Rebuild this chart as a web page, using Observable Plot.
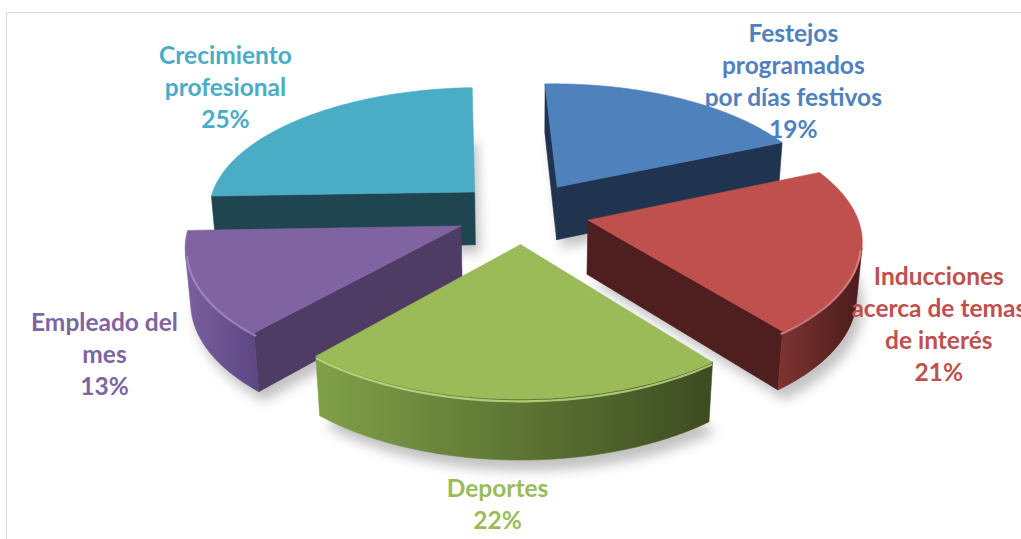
<!DOCTYPE html>
<html>
<head>
<meta charset="utf-8">
<script src="https://cdn.jsdelivr.net/npm/d3@7"></script>
<script src="https://cdn.jsdelivr.net/npm/@observablehq/plot@0.6"></script>
<style>
  html, body { margin: 0; padding: 0; background: #fff; overflow: hidden; }
  #chart { position: relative; width: 1021px; height: 539px; }
  #frame { position: absolute; left: 6px; top: 12px; width: 1100px; height: 600px;
           border-left: 1.5px solid #d9d9d9; border-top: 1.5px solid #d9d9d9; }
  #chart svg { position: absolute; left: 0; top: 0; }
</style>
</head>
<body>
<div id="chart"><div id="frame"></div></div>
<script>
// Activity categories and their shares (%), clockwise from 12 o'clock
const categories = [
  "Festejos programados por días festivos",
  "Inducciones acerca de temas de interés",
  "Deportes",
  "Empleado del mes",
  "Crecimiento profesional"
];
const shares = [19, 21, 22, 13, 25];
const labelLines = [
  "Festejos\nprogramados\npor días festivos",
  "Inducciones\nacerca de temas\nde interés",
  "Deportes",
  "Empleado del\nmes",
  "Crecimiento\nprofesional"
];

// Palette: top face, cut faces, outer wall gradient (light → dark), rim highlight
const topColors  = ["#4F81BD", "#C0504D", "#9BBB59", "#8064A2", "#4BACC6"];
const sideColors = ["#21344F", "#4F1E1F", "#3F5023", "#4E3C64", "#1F4550"];
const wallLight  = ["#3C6496", "#7E3432", "#80A048", "#7B5FA0", "#3A8DA3"];
const wallDark   = ["#22385A", "#4A1B1B", "#3D4C21", "#5C4682", "#1F4651"];
const rimColors  = ["#7FA6D6", "#DB8A88", "#C4E08A", "#A68BC9", "#86CFE2"];

// 3-D view settings (world units: pie radius = 1)
const startAngle = -2 * Math.PI / 180; // first slice begins just left of 12 o'clock
const tilt = 27.5 * Math.PI / 180;     // camera elevation
const viewDist = 6.5;                  // perspective distance
const explode = 0.25;                  // slice pull-out
const thickness = 0.23;                // pie depth
const steps = 90;

// Label placement: distance along the slice's mid angle, drop below the top plane, sideways shift
const labelRadius = [2.49, 1.548, 1.10, 1.589, 1.765];
const labelDrop   = [-0.361, -0.252, -0.511, -0.187, -0.004];
const labelShift  = [0, 0, -0.052, 0, 0];

const cosT = Math.cos(tilt), sinT = Math.sin(tilt);
const cam = [0, viewDist * sinT, -viewDist * cosT];

function project([X, Y, Z]) {
  const v = Y * cosT + Z * sinT;
  const w = Z * cosT - Y * sinT;
  const s = 1 / (1 + w / viewDist);
  return {x: X * s, y: v * s};
}
const facing = (P, n) => (cam[0] - P[0]) * n[0] + (cam[1] - P[1]) * n[1] + (cam[2] - P[2]) * n[2] > 0;

const total = d3.sum(shares);
let acc = 0;
const slices = shares.map((value, i) => {
  const a0 = startAngle + acc / total * 2 * Math.PI;
  acc += value;
  const a1 = startAngle + acc / total * 2 * Math.PI;
  const mid = (a0 + a1) / 2;
  return {i, value, a0, a1, mid, ox: explode * Math.sin(mid), oz: explode * Math.cos(mid)};
});

const pt = (sl, r, a, Y) => [sl.ox + r * Math.sin(a), Y, sl.oz + r * Math.cos(a)];
const angles = sl => d3.range(steps + 1).map(k => sl.a0 + (sl.a1 - sl.a0) * k / steps);

const shadowShapes = [];
const shapes = [];
const rims = [];

// Painter's order: farther slices first
const order = slices.slice().sort((a, b) => b.oz - a.oz);

for (const sl of slices) {
  const as = angles(sl);
  const poly = [pt(sl, 0, 0, -thickness - 0.02), ...as.map(a => pt(sl, 1.0, a, -thickness - 0.02))]
    .map(p => project([p[0] + 0.02, p[1], p[2] - 0.03]));
  shadowShapes.push({points: [...poly, poly[0]]});
}

for (const sl of order) {
  const i = sl.i;
  const as = angles(sl);
  const apexTop = pt(sl, 0, 0, 0), apexBot = pt(sl, 0, 0, -thickness);

  // cut face at start angle
  const n0 = [-Math.cos(sl.a0), 0, Math.sin(sl.a0)];
  if (facing(apexTop, n0)) {
    const ps = [apexTop, pt(sl, 1, sl.a0, 0), pt(sl, 1, sl.a0, -thickness), apexBot, apexTop].map(project);
    shapes.push({points: ps, fill: sideColors[i]});
  }
  // cut face at end angle
  const n1 = [Math.cos(sl.a1), 0, -Math.sin(sl.a1)];
  if (facing(apexTop, n1)) {
    const ps = [apexTop, pt(sl, 1, sl.a1, 0), pt(sl, 1, sl.a1, -thickness), apexBot, apexTop].map(project);
    shapes.push({points: ps, fill: sideColors[i]});
  }
  // outer curved wall: keep runs of segments that face the camera
  let run = [];
  const runs = [];
  for (let k = 0; k < steps; k++) {
    const am = (as[k] + as[k + 1]) / 2;
    const vis = facing(pt(sl, 1, am, -thickness / 2), [Math.sin(am), 0, Math.cos(am)]);
    if (vis) run.push(k); else if (run.length) { runs.push(run); run = []; }
  }
  if (run.length) runs.push(run);
  for (const r of runs) {
    const arc = d3.range(r[0], r[r.length - 1] + 2).map(k => as[k]);
    const top = arc.map(a => project(pt(sl, 1, a, 0)));
    const bot = arc.slice().reverse().map(a => project(pt(sl, 1, a, -thickness)));
    shapes.push({points: [...top, ...bot, top[0]], fill: `url(#wall${i})`});
    rims.push({points: arc.map(a => project(pt(sl, 0.995, a, -0.012))), stroke: rimColors[i]});
  }
  // top face
  const topPts = [apexTop, ...as.map(a => pt(sl, 1, a, 0)), apexTop].map(project);
  shapes.push({points: topPts, fill: topColors[i]});
}

// Labels
const labels = slices.map(sl => {
  const r = labelRadius[sl.i];
  const p = project([r * Math.sin(sl.mid) + labelShift[sl.i], labelDrop[sl.i], r * Math.cos(sl.mid)]);
  return {x: p.x, y: p.y, text: `${labelLines[sl.i]}\n${sl.value}%`, color: topColors[sl.i]};
});

// Screen mapping: 268 px per radius, pie centre at (522, 212)
const pxPerUnit = 268, cx = 522, cy = 212, W = 1021, H = 539;

const plot = Plot.plot({
  width: W, height: H,
  margin: 0,
  x: {domain: [-cx / pxPerUnit, (W - cx) / pxPerUnit], axis: null},
  y: {domain: [(cy - H) / pxPerUnit, cy / pxPerUnit], axis: null},
  style: {background: "transparent", overflow: "visible"},
  marks: [
    ...shadowShapes.map(s => Plot.line(s.points, {x: "x", y: "y", fill: "#000", fillOpacity: 0.24, stroke: "none", ariaDescription: "shadow"})),
    ...shapes.map(s => Plot.line(s.points, {x: "x", y: "y", fill: s.fill, stroke: s.fill, strokeWidth: 0.6, strokeLinejoin: "round"})),
    ...rims.map(r => Plot.line(r.points, {x: "x", y: "y", stroke: r.stroke, strokeWidth: 2.2, strokeOpacity: 0.8})),
    Plot.text(labels, {
      x: "x", y: "y", text: "text", fill: "color",
      fontFamily: "Lato", fontWeight: 700, fontSize: 24.5, lineHeight: 1.306, textAnchor: "middle"
    })
  ]
});

// Gradients for the curved walls and a soft blur for the drop shadows
const svg = d3.select(plot);
const defs = svg.insert("defs", ":first-child");
slices.forEach(sl => {
  const g = defs.append("linearGradient").attr("id", `wall${sl.i}`).attr("x1", 0).attr("x2", 1).attr("y1", 0).attr("y2", 0);
  g.append("stop").attr("offset", "0%").attr("stop-color", wallLight[sl.i]);
  g.append("stop").attr("offset", "100%").attr("stop-color", wallDark[sl.i]);
});
defs.append("filter").attr("id", "soft").attr("x", "-30%").attr("y", "-30%").attr("width", "160%").attr("height", "160%")
  .append("feGaussianBlur").attr("stdDeviation", 6);
svg.selectAll('g[aria-description="shadow"]').attr("filter", "url(#soft)");

document.getElementById("chart").appendChild(plot);
</script>
</body>
</html>
